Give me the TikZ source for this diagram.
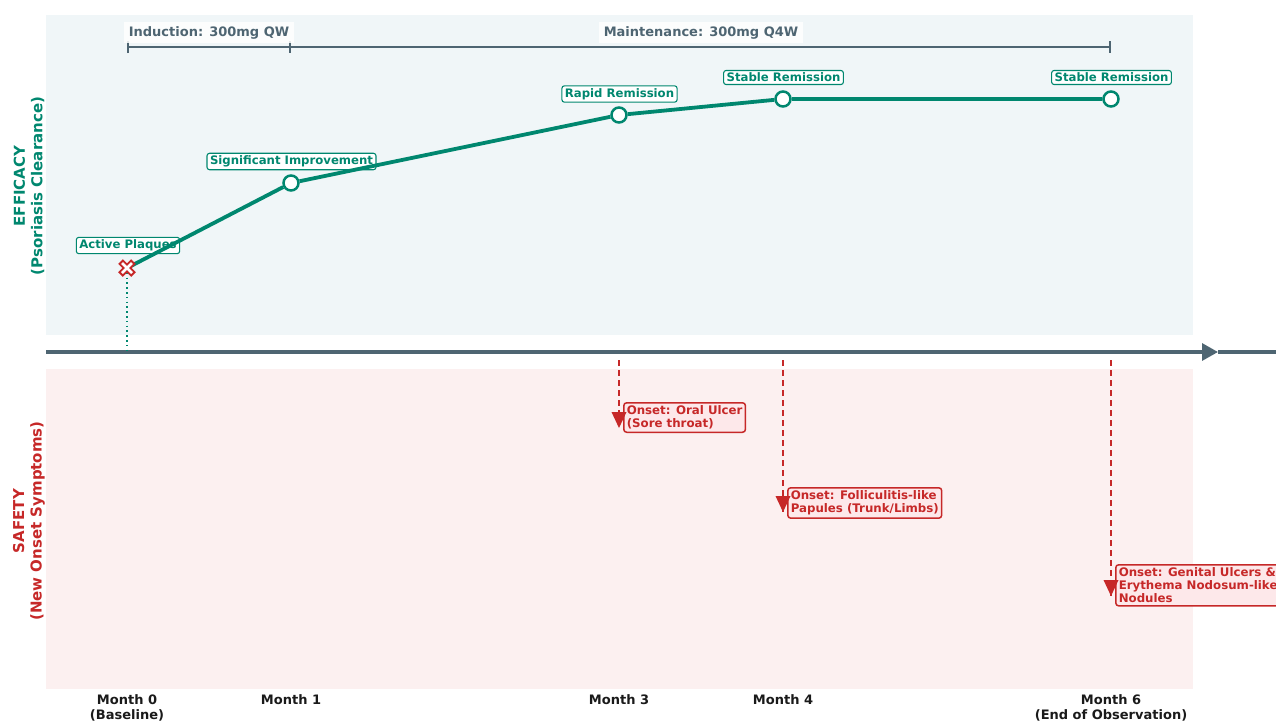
\documentclass[tikz,border=0pt]{standalone}
\usepackage{fontspec}
\setmainfont{DejaVu Sans}
\usetikzlibrary{arrows.meta}
\definecolor{effteal}{HTML}{00876F}
\definecolor{safred}{HTML}{C62828}
\definecolor{slate}{HTML}{4E6572}
\definecolor{efffill}{HTML}{F0F6F8}
\definecolor{saffill}{HTML}{FCF0F0}
\definecolor{safbox}{HTML}{FDE8EA}
\definecolor{monthtxt}{HTML}{1A1A1A}
\tikzset{
  axisline/.style={slate, line width=3.2},
  phasebar/.style={slate, line width=2.4},
  phaselabel/.style={fill=white, fill opacity=0.85, text opacity=1, text=slate, inner xsep=5, inner ysep=4,
    font=\bfseries\fontsize{13}{15}\selectfont},
  effline/.style={effteal, line width=3.8},
  ptcircle/.style={circle, draw=effteal, fill=white, line width=2.5, minimum size=15, inner sep=0},
  efflabel/.style={draw=effteal, fill=white, rounded corners=2.5, line width=1.1, text=effteal,
    inner xsep=3, inner ysep=2.5, font=\bfseries\fontsize{11.7}{13}\selectfont},
  guideline/.style={effteal, line width=1.6, dash pattern=on 1.6pt off 3.2pt},
  safline/.style={safred, line width=1.6, dash pattern=on 6pt off 4pt},
  saflabel/.style={draw=safred, fill=safbox, rounded corners=3, line width=1.5, text=safred, align=left,
    inner xsep=3, inner ysep=3, font=\bfseries\fontsize{11.8}{13}\selectfont},
  monthlabel/.style={anchor=north, align=center, text=monthtxt, inner sep=1,
    font=\bfseries\fontsize{13}{15}\selectfont},
  ylabel/.style={rotate=90, align=center, inner sep=0, font=\bfseries\fontsize{15}{17.5}\selectfont}
}
\begin{document}
\begin{tikzpicture}[x=1pt,y=-1pt]
\useasboundingbox (0,0) rectangle (1276,721);
% panels
\fill[efffill] (46,15) rectangle (1193,335);
\fill[saffill] (46,369) rectangle (1193,689);
% y labels
\node[ylabel, text=effteal] (yeff) at (29,186) {EFFICACY\\(Psoriasis Clearance)};
\node[ylabel, text=safred] (ysaf) at (29,521) {SAFETY\\(New Onset Symptoms)};
% time axis
\coordinate (axL) at (46,352);
\coordinate (axH) at (1218,352);
\coordinate (axR) at (1276,352);
\draw[axisline] (axH) -- (axR);
\draw[axisline, -{Triangle[length=16pt,width=17pt]}] (axL) -- (axH);
% phase bar
\coordinate (ph0) at (127,47);
\coordinate (ph1) at (291,47);
\coordinate (ph6) at (1111,47);
\draw[phasebar, {Bar[width=12pt]}-{Bar[width=12pt]}] (ph0) -- (ph1);
\draw[phasebar, -{Bar[width=12pt]}] (ph1) -- (ph6);
\node[phaselabel] (indl) at (209,32.5) {Induction: 300mg QW};
\node[phaselabel] (mainl) at (701,32.5) {Maintenance: 300mg Q4W};
% efficacy points
\coordinate (p0) at (127,268);
\coordinate (a0) at (127,352);
\draw[guideline] (p0) -- (a0);
\node[efflabel] (l0) at (128,245.5) {Active Plaques};
\node[efflabel] (l1) at (291.5,161.5) {Significant Improvement};
\node[efflabel] (l3) at (619.5,94) {Rapid Remission};
\node[efflabel] (l4) at (783.5,77.5) {Stable Remission};
\node[efflabel] (l6) at (1111.5,77.5) {Stable Remission};
\node[ptcircle] (p1) at (291,183) {};
\node[ptcircle] (p3) at (619,115) {};
\node[ptcircle] (p4) at (783,99) {};
\node[ptcircle] (p6) at (1111,99) {};
\draw[effline] (p0) -- (p1) -- (p3) -- (p4) -- (p6);
% X marker at baseline
\draw[safred, line width=6.5] (120.5,261.5) -- (133.5,274.5) (120.5,274.5) -- (133.5,261.5);
\draw[white, line width=2.6] (122,263) -- (132,273) (122,273) -- (132,263);
% safety events
\coordinate (s3a) at (619,360);
\coordinate (s3b) at (619,428);
\coordinate (s4a) at (783,360);
\coordinate (s4b) at (783,512);
\coordinate (s6a) at (1111,360);
\coordinate (s6b) at (1111,596);
\draw[safline] (s3a) -- (s3b);
\draw[safline] (s4a) -- (s4b);
\draw[safline] (s6a) -- (s6b);
\node[saflabel, anchor=north west] (e3) at (623,402) {Onset: Oral Ulcer\\(Sore throat)};
\node[saflabel, anchor=north west] (e4) at (787,487) {Onset: Folliculitis-like\\Papules (Trunk/Limbs)};
\node[saflabel, anchor=north west] (e6) at (1115,564) {Onset: Genital Ulcers \&\\Erythema Nodosum-like\\Nodules};
\fill[safred] (611.5,412) -- (626.5,412) -- (619,428) -- cycle;
\fill[safred] (775.5,496) -- (790.5,496) -- (783,512) -- cycle;
\fill[safred] (1103.5,580) -- (1118.5,580) -- (1111,596) -- cycle;
% month labels
\node[monthlabel] (m0) at (127,693.5) {Month 0\\(Baseline)};
\node[monthlabel] (m1) at (291,693.5) {Month 1};
\node[monthlabel] (m3) at (619,693.5) {Month 3};
\node[monthlabel] (m4) at (783,693.5) {Month 4};
\node[monthlabel] (m6) at (1111,693.5) {Month 6\\(End of Observation)};
\end{tikzpicture}
\end{document}
